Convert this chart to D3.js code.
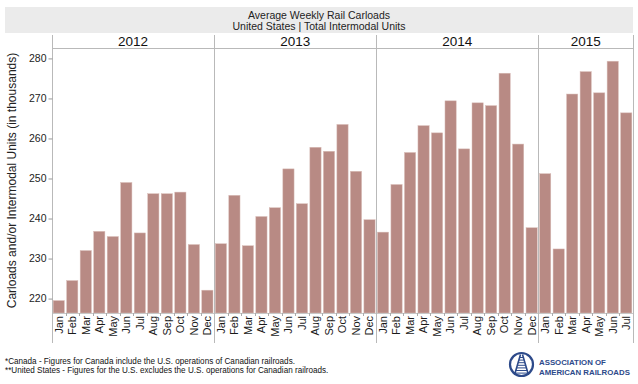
<!DOCTYPE html>
<html>
<head>
<meta charset="utf-8">
<script src="https://cdn.jsdelivr.net/npm/d3@7"></script>
<style>
  html, body { margin: 0; padding: 0; background: #fff; }
  svg { display: block; font-family: "Liberation Sans", Arial, Helvetica, sans-serif; }
</style>
</head>
<body>
<div id="chart"></div>
<script>
// ---- data (thousands of units, weekly average) ----
const YEARS  = ["2012", "2013", "2014", "2015"];
const MONTHS = ["Jan","Feb","Mar","Apr","May","Jun","Jul","Aug","Sep","Oct","Nov","Dec"];
const V2012 = [219.5, 224.5, 232.0, 236.8, 235.5, 249.0, 236.4, 246.2, 246.2, 246.6, 233.5, 222.1];
const V2013 = [233.7, 245.8, 233.2, 240.5, 242.7, 252.4, 243.7, 257.8, 256.8, 263.5, 251.8, 239.7];
const V2014 = [236.6, 248.5, 256.5, 263.2, 261.4, 269.4, 257.4, 268.9, 268.2, 276.3, 258.6, 237.7];
const V2015 = [251.2, 232.4, 271.1, 276.7, 271.4, 279.3, 266.4];
const Y_TICKS = [220, 230, 240, 250, 260, 270, 280];

const TITLE    = "Average Weekly Rail Carloads";
const SUBTITLE = "United States | Total Intermodal Units";
const Y_LABEL  = "Carloads and/or Intermodal Units (in thousands)";
const NOTES = [
  "*Canada - Figures for Canada include the U.S. operations of Canadian railroads.",
  "**United States - Figures for the U.S. excludes the U.S. operations for Canadian railroads."
];
const LOGO_TEXT = ["ASSOCIATION OF", "AMERICAN RAILROADS"];

const W = 638, H = 384;
const M = { l: 52, r: 633, t: 48, b: 313 };
const BAR = "#b88a84", LINE = "#b9b9b9", NAVY = "#2d4a8a";

// flatten into one row per month
const byYear = [V2012, V2013, V2014, V2015];
const rows = [];
byYear.forEach((vals, yi) => vals.forEach((v, mi) =>
  rows.push({ year: YEARS[yi], month: MONTHS[mi], key: YEARS[yi] + "-" + MONTHS[mi], value: v })));

const svg = d3.select("#chart").append("svg").attr("width", W).attr("height", H);

// title band
svg.append("rect").attr("x", 5).attr("y", 7).attr("width", M.r - 5).attr("height", 26).attr("fill", "#ebebeb");
svg.append("text").attr("x", (5 + M.r) / 2).attr("y", 19).attr("text-anchor", "middle")
  .style("font-size", "10.5px").attr("fill", "#222").text(TITLE);
svg.append("text").attr("x", (5 + M.r) / 2).attr("y", 30).attr("text-anchor", "middle")
  .style("font-size", "10.5px").attr("fill", "#222").text(SUBTITLE);

// scales
const x = d3.scaleBand().domain(rows.map(d => d.key)).range([M.l, M.r]).paddingInner(0.17).paddingOuter(0.085);
const y = d3.scaleLinear().domain([216.4, 282.6]).range([M.b, M.t]);
const gap = (x.step() - x.bandwidth()) / 2;

// year panels
const panels = YEARS.map(yr => {
  const ks = rows.filter(r => r.year === yr).map(r => r.key);
  return { year: yr, x0: x(ks[0]) - gap, x1: x(ks[ks.length - 1]) + x.bandwidth() + gap };
});
panels[0].x0 = M.l; panels[panels.length - 1].x1 = M.r;

// top border of plot
svg.append("line").attr("x1", M.l).attr("x2", M.r).attr("y1", M.t + 0.5).attr("y2", M.t + 0.5)
  .attr("stroke", LINE);

// bars
svg.append("g").selectAll("rect").data(rows).join("rect")
  .attr("x", d => x(d.key)).attr("width", x.bandwidth())
  .attr("y", d => y(d.value)).attr("height", d => M.b - y(d.value))
  .attr("fill", BAR).attr("stroke", "#d9bdb8").attr("stroke-width", 0.5);

// baseline + small ticks at band boundaries
svg.append("line").attr("x1", M.l).attr("x2", M.r).attr("y1", M.b + 0.5).attr("y2", M.b + 0.5)
  .attr("stroke", "#c8c8c8");
svg.append("g").selectAll("line").data(rows.slice(1)).join("line")
  .attr("x1", d => Math.round(x(d.key) - gap) + 0.5)
  .attr("x2", d => Math.round(x(d.key) - gap) + 0.5)
  .attr("y1", M.b).attr("y2", M.b + 3).attr("stroke", "#aaa");

// vertical separators
const seps = [M.l].concat(panels.slice(1).map(p => p.x0)).concat([M.r]);
svg.append("g").selectAll("line").data(seps).join("line")
  .attr("x1", d => Math.round(d) + 0.5).attr("x2", d => Math.round(d) + 0.5)
  .attr("y1", 35).attr("y2", 343)
  .attr("stroke", LINE);

// year labels
svg.append("g").selectAll("text").data(panels).join("text")
  .attr("x", d => (d.x0 + d.x1) / 2).attr("y", 45.5).attr("text-anchor", "middle")
  .style("font-size", "13.5px").attr("fill", "#111").text(d => d.year);

// y axis
const ya = svg.append("g").attr("transform", `translate(${M.l + 0.5},0)`)
  .call(d3.axisLeft(y).tickValues(Y_TICKS).tickSize(4).tickPadding(2));
ya.select(".domain").remove();
ya.selectAll(".tick line").attr("stroke", "#999");
ya.selectAll(".tick text").style("font-size", "10.5px").style("font-family", "Liberation Sans, Arial, sans-serif").attr("fill", "#222");

svg.append("text")
  .attr("transform", `translate(16,${(M.t + M.b) / 2}) rotate(-90)`)
  .attr("text-anchor", "middle").style("font-size", "12px").attr("fill", "#222")
  .text(Y_LABEL);

// x axis (months)
const xa = svg.append("g").attr("transform", `translate(0,${M.b})`)
  .call(d3.axisBottom(x).tickFormat(k => k.split("-")[1]).tickSize(0).tickPadding(0));
xa.select(".domain").remove();
xa.selectAll(".tick text")
  .attr("transform", "rotate(-90)")
  .attr("x", -3).attr("y", 0).attr("dy", "0.35em")
  .attr("text-anchor", "end")
  .style("font-size", "11px").style("font-family", "Liberation Sans, Arial, sans-serif")
  .attr("fill", "#1a1a1a");

// footnotes
svg.append("g").selectAll("text").data(NOTES).join("text")
  .attr("x", 5).attr("y", (d, i) => 363.5 + i * 9.5)
  .style("font-size", "8.15px").attr("fill", "#111").text(d => d);

// logo
const logo = svg.append("g").attr("transform", "translate(521.5,364.5)");
logo.append("circle").attr("r", 11.5).attr("fill", "none").attr("stroke", NAVY).attr("stroke-width", 2.2);
logo.append("path").attr("d", "M-1,-10 L-7,10.5 M1,-10 L7,10.5").attr("stroke", NAVY).attr("stroke-width", 1.6).attr("fill", "none");
logo.append("g").selectAll("line").data(d3.range(7)).join("line")
  .attr("x1", i => -1.5 - i * 0.85).attr("x2", i => 1.5 + i * 0.85)
  .attr("y1", i => -7 + i * 2.6).attr("y2", i => -7 + i * 2.6)
  .attr("stroke", NAVY).attr("stroke-width", 1);
// condensed wordmark: bold text squeezed horizontally to the reference widths
const wm = svg.append("g").selectAll("text").data(LOGO_TEXT).join("text")
  .style("font-size", "8px").style("font-weight", "bold")
  .attr("fill", NAVY).text(d => d);
wm.each(function (d, i) {
  const nat = this.getComputedTextLength();
  const target = i ? 91 : 67;
  d3.select(this).attr("transform",
    `translate(539,${365 + i * 9.5}) scale(${(target / nat).toFixed(3)},1)`);
});
</script>
</body>
</html>
